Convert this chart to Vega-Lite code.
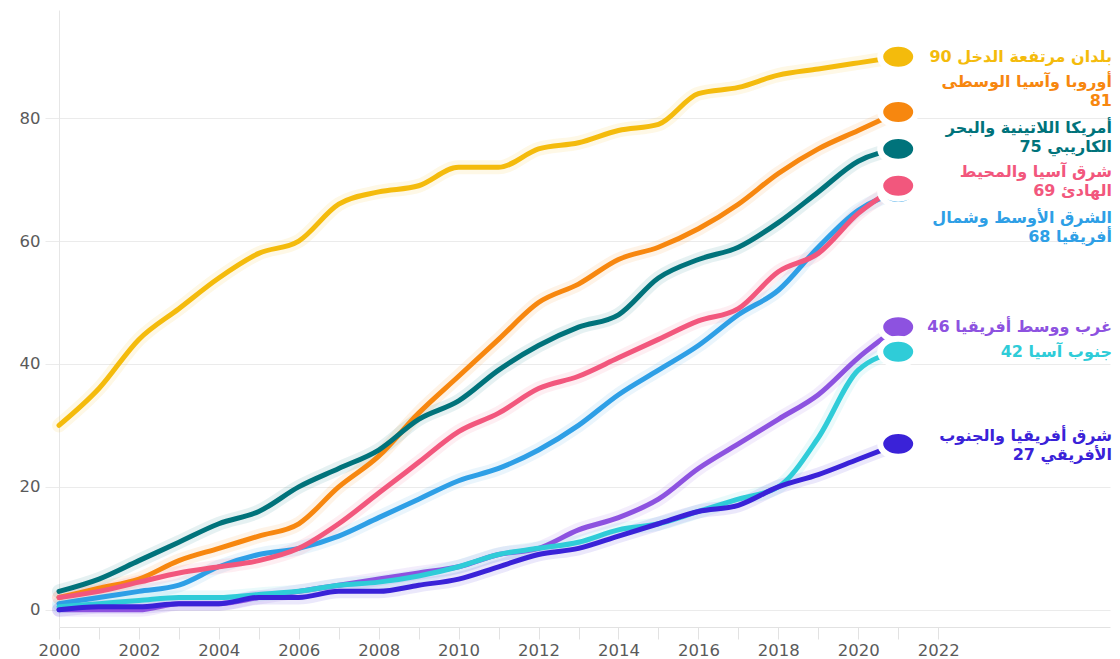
{
  "$schema": "https://vega.github.io/schema/vega-lite/v6.json",
  "width": 1051,
  "height": 617,
  "autosize": {"type": "none"},
  "padding": {"left": 59, "top": 10, "right": 10, "bottom": 32},
  "background": "white",
  "config": {"view": {"stroke": null}},
  "datasets": {
    "series": [
      {"region": "بلدان مرتفعة الدخل", "year": 2000, "value": 30},
      {"region": "بلدان مرتفعة الدخل", "year": 2001, "value": 36},
      {"region": "بلدان مرتفعة الدخل", "year": 2002, "value": 44},
      {"region": "بلدان مرتفعة الدخل", "year": 2003, "value": 49},
      {"region": "بلدان مرتفعة الدخل", "year": 2004, "value": 54},
      {"region": "بلدان مرتفعة الدخل", "year": 2005, "value": 58},
      {"region": "بلدان مرتفعة الدخل", "year": 2006, "value": 60},
      {"region": "بلدان مرتفعة الدخل", "year": 2007, "value": 66},
      {"region": "بلدان مرتفعة الدخل", "year": 2008, "value": 68},
      {"region": "بلدان مرتفعة الدخل", "year": 2009, "value": 69},
      {"region": "بلدان مرتفعة الدخل", "year": 2010, "value": 72},
      {"region": "بلدان مرتفعة الدخل", "year": 2011, "value": 72},
      {"region": "بلدان مرتفعة الدخل", "year": 2012, "value": 75},
      {"region": "بلدان مرتفعة الدخل", "year": 2013, "value": 76},
      {"region": "بلدان مرتفعة الدخل", "year": 2014, "value": 78},
      {"region": "بلدان مرتفعة الدخل", "year": 2015, "value": 79},
      {"region": "بلدان مرتفعة الدخل", "year": 2016, "value": 84},
      {"region": "بلدان مرتفعة الدخل", "year": 2017, "value": 85},
      {"region": "بلدان مرتفعة الدخل", "year": 2018, "value": 87},
      {"region": "بلدان مرتفعة الدخل", "year": 2019, "value": 88},
      {"region": "بلدان مرتفعة الدخل", "year": 2020, "value": 89},
      {"region": "بلدان مرتفعة الدخل", "year": 2021, "value": 90},

      {"region": "أوروبا وآسيا الوسطى", "year": 2000, "value": 2},
      {"region": "أوروبا وآسيا الوسطى", "year": 2001, "value": 3.5},
      {"region": "أوروبا وآسيا الوسطى", "year": 2002, "value": 5},
      {"region": "أوروبا وآسيا الوسطى", "year": 2003, "value": 8},
      {"region": "أوروبا وآسيا الوسطى", "year": 2004, "value": 10},
      {"region": "أوروبا وآسيا الوسطى", "year": 2005, "value": 12},
      {"region": "أوروبا وآسيا الوسطى", "year": 2006, "value": 14},
      {"region": "أوروبا وآسيا الوسطى", "year": 2007, "value": 20},
      {"region": "أوروبا وآسيا الوسطى", "year": 2008, "value": 25},
      {"region": "أوروبا وآسيا الوسطى", "year": 2009, "value": 32},
      {"region": "أوروبا وآسيا الوسطى", "year": 2010, "value": 38},
      {"region": "أوروبا وآسيا الوسطى", "year": 2011, "value": 44},
      {"region": "أوروبا وآسيا الوسطى", "year": 2012, "value": 50},
      {"region": "أوروبا وآسيا الوسطى", "year": 2013, "value": 53},
      {"region": "أوروبا وآسيا الوسطى", "year": 2014, "value": 57},
      {"region": "أوروبا وآسيا الوسطى", "year": 2015, "value": 59},
      {"region": "أوروبا وآسيا الوسطى", "year": 2016, "value": 62},
      {"region": "أوروبا وآسيا الوسطى", "year": 2017, "value": 66},
      {"region": "أوروبا وآسيا الوسطى", "year": 2018, "value": 71},
      {"region": "أوروبا وآسيا الوسطى", "year": 2019, "value": 75},
      {"region": "أوروبا وآسيا الوسطى", "year": 2020, "value": 78},
      {"region": "أوروبا وآسيا الوسطى", "year": 2021, "value": 81},

      {"region": "أمريكا اللاتينية والبحر الكاريبي", "year": 2000, "value": 3},
      {"region": "أمريكا اللاتينية والبحر الكاريبي", "year": 2001, "value": 5},
      {"region": "أمريكا اللاتينية والبحر الكاريبي", "year": 2002, "value": 8},
      {"region": "أمريكا اللاتينية والبحر الكاريبي", "year": 2003, "value": 11},
      {"region": "أمريكا اللاتينية والبحر الكاريبي", "year": 2004, "value": 14},
      {"region": "أمريكا اللاتينية والبحر الكاريبي", "year": 2005, "value": 16},
      {"region": "أمريكا اللاتينية والبحر الكاريبي", "year": 2006, "value": 20},
      {"region": "أمريكا اللاتينية والبحر الكاريبي", "year": 2007, "value": 23},
      {"region": "أمريكا اللاتينية والبحر الكاريبي", "year": 2008, "value": 26},
      {"region": "أمريكا اللاتينية والبحر الكاريبي", "year": 2009, "value": 31},
      {"region": "أمريكا اللاتينية والبحر الكاريبي", "year": 2010, "value": 34},
      {"region": "أمريكا اللاتينية والبحر الكاريبي", "year": 2011, "value": 39},
      {"region": "أمريكا اللاتينية والبحر الكاريبي", "year": 2012, "value": 43},
      {"region": "أمريكا اللاتينية والبحر الكاريبي", "year": 2013, "value": 46},
      {"region": "أمريكا اللاتينية والبحر الكاريبي", "year": 2014, "value": 48},
      {"region": "أمريكا اللاتينية والبحر الكاريبي", "year": 2015, "value": 54},
      {"region": "أمريكا اللاتينية والبحر الكاريبي", "year": 2016, "value": 57},
      {"region": "أمريكا اللاتينية والبحر الكاريبي", "year": 2017, "value": 59},
      {"region": "أمريكا اللاتينية والبحر الكاريبي", "year": 2018, "value": 63},
      {"region": "أمريكا اللاتينية والبحر الكاريبي", "year": 2019, "value": 68},
      {"region": "أمريكا اللاتينية والبحر الكاريبي", "year": 2020, "value": 73},
      {"region": "أمريكا اللاتينية والبحر الكاريبي", "year": 2021, "value": 75},

      {"region": "الشرق الأوسط وشمال أفريقيا", "year": 2000, "value": 1},
      {"region": "الشرق الأوسط وشمال أفريقيا", "year": 2001, "value": 2},
      {"region": "الشرق الأوسط وشمال أفريقيا", "year": 2002, "value": 3},
      {"region": "الشرق الأوسط وشمال أفريقيا", "year": 2003, "value": 4},
      {"region": "الشرق الأوسط وشمال أفريقيا", "year": 2004, "value": 7},
      {"region": "الشرق الأوسط وشمال أفريقيا", "year": 2005, "value": 9},
      {"region": "الشرق الأوسط وشمال أفريقيا", "year": 2006, "value": 10},
      {"region": "الشرق الأوسط وشمال أفريقيا", "year": 2007, "value": 12},
      {"region": "الشرق الأوسط وشمال أفريقيا", "year": 2008, "value": 15},
      {"region": "الشرق الأوسط وشمال أفريقيا", "year": 2009, "value": 18},
      {"region": "الشرق الأوسط وشمال أفريقيا", "year": 2010, "value": 21},
      {"region": "الشرق الأوسط وشمال أفريقيا", "year": 2011, "value": 23},
      {"region": "الشرق الأوسط وشمال أفريقيا", "year": 2012, "value": 26},
      {"region": "الشرق الأوسط وشمال أفريقيا", "year": 2013, "value": 30},
      {"region": "الشرق الأوسط وشمال أفريقيا", "year": 2014, "value": 35},
      {"region": "الشرق الأوسط وشمال أفريقيا", "year": 2015, "value": 39},
      {"region": "الشرق الأوسط وشمال أفريقيا", "year": 2016, "value": 43},
      {"region": "الشرق الأوسط وشمال أفريقيا", "year": 2017, "value": 48},
      {"region": "الشرق الأوسط وشمال أفريقيا", "year": 2018, "value": 52},
      {"region": "الشرق الأوسط وشمال أفريقيا", "year": 2019, "value": 59},
      {"region": "الشرق الأوسط وشمال أفريقيا", "year": 2020, "value": 65},
      {"region": "الشرق الأوسط وشمال أفريقيا", "year": 2021, "value": 68},

      {"region": "شرق آسيا والمحيط الهادئ", "year": 2000, "value": 2},
      {"region": "شرق آسيا والمحيط الهادئ", "year": 2001, "value": 3},
      {"region": "شرق آسيا والمحيط الهادئ", "year": 2002, "value": 4.5},
      {"region": "شرق آسيا والمحيط الهادئ", "year": 2003, "value": 6},
      {"region": "شرق آسيا والمحيط الهادئ", "year": 2004, "value": 7},
      {"region": "شرق آسيا والمحيط الهادئ", "year": 2005, "value": 8},
      {"region": "شرق آسيا والمحيط الهادئ", "year": 2006, "value": 10},
      {"region": "شرق آسيا والمحيط الهادئ", "year": 2007, "value": 14},
      {"region": "شرق آسيا والمحيط الهادئ", "year": 2008, "value": 19},
      {"region": "شرق آسيا والمحيط الهادئ", "year": 2009, "value": 24},
      {"region": "شرق آسيا والمحيط الهادئ", "year": 2010, "value": 29},
      {"region": "شرق آسيا والمحيط الهادئ", "year": 2011, "value": 32},
      {"region": "شرق آسيا والمحيط الهادئ", "year": 2012, "value": 36},
      {"region": "شرق آسيا والمحيط الهادئ", "year": 2013, "value": 38},
      {"region": "شرق آسيا والمحيط الهادئ", "year": 2014, "value": 41},
      {"region": "شرق آسيا والمحيط الهادئ", "year": 2015, "value": 44},
      {"region": "شرق آسيا والمحيط الهادئ", "year": 2016, "value": 47},
      {"region": "شرق آسيا والمحيط الهادئ", "year": 2017, "value": 49},
      {"region": "شرق آسيا والمحيط الهادئ", "year": 2018, "value": 55},
      {"region": "شرق آسيا والمحيط الهادئ", "year": 2019, "value": 58},
      {"region": "شرق آسيا والمحيط الهادئ", "year": 2020, "value": 64.5},
      {"region": "شرق آسيا والمحيط الهادئ", "year": 2021, "value": 69},

      {"region": "غرب ووسط أفريقيا", "year": 2000, "value": 0},
      {"region": "غرب ووسط أفريقيا", "year": 2001, "value": 0},
      {"region": "غرب ووسط أفريقيا", "year": 2002, "value": 0},
      {"region": "غرب ووسط أفريقيا", "year": 2003, "value": 1},
      {"region": "غرب ووسط أفريقيا", "year": 2004, "value": 1},
      {"region": "غرب ووسط أفريقيا", "year": 2005, "value": 2},
      {"region": "غرب ووسط أفريقيا", "year": 2006, "value": 3},
      {"region": "غرب ووسط أفريقيا", "year": 2007, "value": 4},
      {"region": "غرب ووسط أفريقيا", "year": 2008, "value": 5},
      {"region": "غرب ووسط أفريقيا", "year": 2009, "value": 6},
      {"region": "غرب ووسط أفريقيا", "year": 2010, "value": 7},
      {"region": "غرب ووسط أفريقيا", "year": 2011, "value": 9},
      {"region": "غرب ووسط أفريقيا", "year": 2012, "value": 10},
      {"region": "غرب ووسط أفريقيا", "year": 2013, "value": 13},
      {"region": "غرب ووسط أفريقيا", "year": 2014, "value": 15},
      {"region": "غرب ووسط أفريقيا", "year": 2015, "value": 18},
      {"region": "غرب ووسط أفريقيا", "year": 2016, "value": 23},
      {"region": "غرب ووسط أفريقيا", "year": 2017, "value": 27},
      {"region": "غرب ووسط أفريقيا", "year": 2018, "value": 31},
      {"region": "غرب ووسط أفريقيا", "year": 2019, "value": 35},
      {"region": "غرب ووسط أفريقيا", "year": 2020, "value": 41},
      {"region": "غرب ووسط أفريقيا", "year": 2021, "value": 46},

      {"region": "جنوب آسيا", "year": 2000, "value": 0.5},
      {"region": "جنوب آسيا", "year": 2001, "value": 1},
      {"region": "جنوب آسيا", "year": 2002, "value": 1.5},
      {"region": "جنوب آسيا", "year": 2003, "value": 2},
      {"region": "جنوب آسيا", "year": 2004, "value": 2},
      {"region": "جنوب آسيا", "year": 2005, "value": 2.5},
      {"region": "جنوب آسيا", "year": 2006, "value": 3},
      {"region": "جنوب آسيا", "year": 2007, "value": 4},
      {"region": "جنوب آسيا", "year": 2008, "value": 4.5},
      {"region": "جنوب آسيا", "year": 2009, "value": 5.5},
      {"region": "جنوب آسيا", "year": 2010, "value": 7},
      {"region": "جنوب آسيا", "year": 2011, "value": 9},
      {"region": "جنوب آسيا", "year": 2012, "value": 10},
      {"region": "جنوب آسيا", "year": 2013, "value": 11},
      {"region": "جنوب آسيا", "year": 2014, "value": 13},
      {"region": "جنوب آسيا", "year": 2015, "value": 14},
      {"region": "جنوب آسيا", "year": 2016, "value": 16},
      {"region": "جنوب آسيا", "year": 2017, "value": 18},
      {"region": "جنوب آسيا", "year": 2018, "value": 20},
      {"region": "جنوب آسيا", "year": 2019, "value": 28},
      {"region": "جنوب آسيا", "year": 2020, "value": 39},
      {"region": "جنوب آسيا", "year": 2021, "value": 42},

      {"region": "شرق أفريقيا والجنوب الأفريقي", "year": 2000, "value": 0},
      {"region": "شرق أفريقيا والجنوب الأفريقي", "year": 2001, "value": 0.5},
      {"region": "شرق أفريقيا والجنوب الأفريقي", "year": 2002, "value": 0.5},
      {"region": "شرق أفريقيا والجنوب الأفريقي", "year": 2003, "value": 1},
      {"region": "شرق أفريقيا والجنوب الأفريقي", "year": 2004, "value": 1},
      {"region": "شرق أفريقيا والجنوب الأفريقي", "year": 2005, "value": 2},
      {"region": "شرق أفريقيا والجنوب الأفريقي", "year": 2006, "value": 2},
      {"region": "شرق أفريقيا والجنوب الأفريقي", "year": 2007, "value": 3},
      {"region": "شرق أفريقيا والجنوب الأفريقي", "year": 2008, "value": 3},
      {"region": "شرق أفريقيا والجنوب الأفريقي", "year": 2009, "value": 4},
      {"region": "شرق أفريقيا والجنوب الأفريقي", "year": 2010, "value": 5},
      {"region": "شرق أفريقيا والجنوب الأفريقي", "year": 2011, "value": 7},
      {"region": "شرق أفريقيا والجنوب الأفريقي", "year": 2012, "value": 9},
      {"region": "شرق أفريقيا والجنوب الأفريقي", "year": 2013, "value": 10},
      {"region": "شرق أفريقيا والجنوب الأفريقي", "year": 2014, "value": 12},
      {"region": "شرق أفريقيا والجنوب الأفريقي", "year": 2015, "value": 14},
      {"region": "شرق أفريقيا والجنوب الأفريقي", "year": 2016, "value": 16},
      {"region": "شرق أفريقيا والجنوب الأفريقي", "year": 2017, "value": 17},
      {"region": "شرق أفريقيا والجنوب الأفريقي", "year": 2018, "value": 20},
      {"region": "شرق أفريقيا والجنوب الأفريقي", "year": 2019, "value": 22},
      {"region": "شرق أفريقيا والجنوب الأفريقي", "year": 2020, "value": 24.5},
      {"region": "شرق أفريقيا والجنوب الأفريقي", "year": 2021, "value": 27}
    ],
    "labels": [
      {"region": "بلدان مرتفعة الدخل", "year": 2021, "value": 90, "label": "بلدان مرتفعة الدخل 90"},
      {"region": "أوروبا وآسيا الوسطى", "year": 2021, "value": 81, "label": "أوروبا وآسيا الوسطى\n81"},
      {"region": "أمريكا اللاتينية والبحر الكاريبي", "year": 2021, "value": 75, "label": "أمريكا اللاتينية والبحر\nالكاريبي 75"},
      {"region": "الشرق الأوسط وشمال أفريقيا", "year": 2021, "value": 68, "label": "الشرق الأوسط وشمال\nأفريقيا 68"},
      {"region": "شرق آسيا والمحيط الهادئ", "year": 2021, "value": 69, "label": "شرق آسيا والمحيط\nالهادئ 69"},
      {"region": "غرب ووسط أفريقيا", "year": 2021, "value": 46, "label": "غرب ووسط أفريقيا 46"},
      {"region": "جنوب آسيا", "year": 2021, "value": 42, "label": "جنوب آسيا 42"},
      {"region": "شرق أفريقيا والجنوب الأفريقي", "year": 2021, "value": 27, "label": "شرق أفريقيا والجنوب\nالأفريقي 27"}
    ]
  },
  "layer": [
    {
      "data": {"name": "series"},
      "mark": {"type": "line", "strokeWidth": 14, "opacity": 0.1, "interpolate": "monotone", "strokeCap": "round", "strokeJoin": "round"},
      "encoding": {
        "x": {"field": "year", "type": "quantitative",
          "scale": {"domain": [2000, 2026.3], "nice": false, "zero": false},
          "axis": {"values": [2000,2001,2002,2003,2004,2005,2006,2007,2008,2009,2010,2011,2012,2013,2014,2015,2016,2017,2018,2019,2020,2021,2022],
            "labelExpr": "datum.value % 2 == 0 ? datum.label : ''", "format": "d", "title": null, "grid": false,
            "domainColor": "#e2e2e2", "tickColor": "#e2e2e2", "tickSize": 12, "labelPadding": 3,
            "labelFont": "DejaVu Sans", "labelFontSize": 16.5, "labelColor": "#5a5a5a", "labelFlush": false}},
        "y": {"field": "value", "type": "quantitative",
          "scale": {"domain": [-2.8, 97.6], "nice": false, "zero": false},
          "axis": {"values": [0, 20, 40, 60, 80], "title": null, "grid": true, "gridColor": "#ebebeb",
            "domainColor": "#e6e6e6", "tickColor": "#ebebeb", "tickSize": 14, "labelPadding": 5,
            "labelFont": "DejaVu Sans", "labelFontSize": 16.5, "labelColor": "#5a5a5a"}},
        "color": {"field": "region", "type": "nominal", "legend": null,
          "scale": {"domain": ["بلدان مرتفعة الدخل", "أوروبا وآسيا الوسطى", "أمريكا اللاتينية والبحر الكاريبي", "الشرق الأوسط وشمال أفريقيا", "شرق آسيا والمحيط الهادئ", "غرب ووسط أفريقيا", "جنوب آسيا", "شرق أفريقيا والجنوب الأفريقي"],
            "range": ["#F4BB0C", "#F7870F", "#00737B", "#2E9FE6", "#F2577D", "#8D52E0", "#2FCCD8", "#3A22D8"]}}
      }
    },
    {
      "data": {"name": "series"},
      "mark": {"type": "line", "strokeWidth": 5, "interpolate": "monotone", "strokeCap": "round", "strokeJoin": "round"},
      "encoding": {
        "x": {"field": "year", "type": "quantitative", "scale": {"domain": [2000, 2026.3], "nice": false, "zero": false}},
        "y": {"field": "value", "type": "quantitative", "scale": {"domain": [-2.8, 97.6], "nice": false, "zero": false}},
        "color": {"field": "region", "type": "nominal", "legend": null}
      }
    },
    {
      "data": {"name": "labels"},
      "mark": {"type": "point", "filled": true, "opacity": 1, "size": 1296, "stroke": "white", "strokeWidth": 6, "strokeOpacity": 1,
        "shape": "M -1 0 A 1 0.72 0 1 0 1 0 A 1 0.72 0 1 0 -1 0 Z"},
      "encoding": {
        "x": {"field": "year", "type": "quantitative", "scale": {"domain": [2000, 2026.3], "nice": false, "zero": false}},
        "y": {"field": "value", "type": "quantitative", "scale": {"domain": [-2.8, 97.6], "nice": false, "zero": false}},
        "color": {"field": "region", "type": "nominal", "legend": null}
      }
    },
    {
      "data": {"name": "labels"},
      "transform": [{"filter": "datum.value == 90 || datum.value == 46 || datum.value == 42"}],
      "mark": {"type": "text", "align": "right", "baseline": "middle", "font": "DejaVu Sans", "fontWeight": "bold", "fontSize": 16, "lineBreak": "\n", "lineHeight": 19, "dx": 2},
      "encoding": {
        "x": {"value": "width"},
        "y": {"field": "value", "type": "quantitative", "scale": {"domain": [-2.8, 97.6], "nice": false, "zero": false}},
        "text": {"field": "label"},
        "color": {"field": "region", "type": "nominal", "legend": null}
      }
    },
    {
      "data": {"name": "labels"},
      "transform": [{"filter": "datum.value == 27"}],
      "mark": {"type": "text", "align": "right", "baseline": "middle", "font": "DejaVu Sans", "fontWeight": "bold", "fontSize": 16, "lineBreak": "\n", "lineHeight": 19, "dx": 2, "dy": -8},
      "encoding": {
        "x": {"value": "width"},
        "y": {"field": "value", "type": "quantitative", "scale": {"domain": [-2.8, 97.6], "nice": false, "zero": false}},
        "text": {"field": "label"},
        "color": {"field": "region", "type": "nominal", "legend": null}
      }
    },
    {
      "data": {"name": "labels"},
      "transform": [{"filter": "datum.value == 69"}],
      "mark": {"type": "text", "align": "right", "baseline": "middle", "font": "DejaVu Sans", "fontWeight": "bold", "fontSize": 16, "lineBreak": "\n", "lineHeight": 19, "dx": 2, "dy": -14},
      "encoding": {
        "x": {"value": "width"},
        "y": {"field": "value", "type": "quantitative", "scale": {"domain": [-2.8, 97.6], "nice": false, "zero": false}},
        "text": {"field": "label"},
        "color": {"field": "region", "type": "nominal", "legend": null}
      }
    },
    {
      "data": {"name": "labels"},
      "transform": [{"filter": "datum.value == 75"}],
      "mark": {"type": "text", "align": "right", "baseline": "middle", "font": "DejaVu Sans", "fontWeight": "bold", "fontSize": 16, "lineBreak": "\n", "lineHeight": 19, "dx": 2, "dy": -21},
      "encoding": {
        "x": {"value": "width"},
        "y": {"field": "value", "type": "quantitative", "scale": {"domain": [-2.8, 97.6], "nice": false, "zero": false}},
        "text": {"field": "label"},
        "color": {"field": "region", "type": "nominal", "legend": null}
      }
    },
    {
      "data": {"name": "labels"},
      "transform": [{"filter": "datum.value == 81"}],
      "mark": {"type": "text", "align": "right", "baseline": "middle", "font": "DejaVu Sans", "fontWeight": "bold", "fontSize": 16, "lineBreak": "\n", "lineHeight": 19, "dx": 2, "dy": -30},
      "encoding": {
        "x": {"value": "width"},
        "y": {"field": "value", "type": "quantitative", "scale": {"domain": [-2.8, 97.6], "nice": false, "zero": false}},
        "text": {"field": "label"},
        "color": {"field": "region", "type": "nominal", "legend": null}
      }
    },
    {
      "data": {"name": "labels"},
      "transform": [{"filter": "datum.value == 68"}],
      "mark": {"type": "text", "align": "right", "baseline": "middle", "font": "DejaVu Sans", "fontWeight": "bold", "fontSize": 16, "lineBreak": "\n", "lineHeight": 19, "dx": 2, "dy": 26},
      "encoding": {
        "x": {"value": "width"},
        "y": {"field": "value", "type": "quantitative", "scale": {"domain": [-2.8, 97.6], "nice": false, "zero": false}},
        "text": {"field": "label"},
        "color": {"field": "region", "type": "nominal", "legend": null}
      }
    }
  ]
}
